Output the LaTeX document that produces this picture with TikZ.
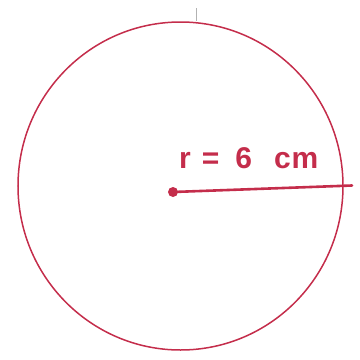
\documentclass[tikz,border=0pt]{standalone}
\usepackage{fontspec}
\setmainfont{Liberation Sans}
\definecolor{ink}{RGB}{196,45,75}
\tikzset{
  ring/.style={draw=ink, line width=1.5pt},
  radius line/.style={draw=ink, line width=2.6pt, line cap=round},
  lbl/.style={text=ink, font=\bfseries\fontsize{30}{32}\selectfont, inner sep=0pt, anchor=base west},
}
\begin{document}
\begin{tikzpicture}[x=1pt,y=-1pt]
\useasboundingbox (0,0) rectangle (360,360);
\coordinate (C) at (180.5,186);
\coordinate (O) at (173,192);
\coordinate (E) at (352,185.5);
\draw[ring] (C) ellipse [x radius=162.5, y radius=164];
\draw[radius line] (O) -- (E);
\fill[ink] (O) circle (5);
\node[lbl] (t) at (179,168) {r\hspace{11pt}=\hspace{16pt}6\hspace{22pt}c\hspace{1pt}m};
\draw[gray!60, line width=0.6pt] (196.5,8) -- (196.5,21);
\end{tikzpicture}
\end{document}
